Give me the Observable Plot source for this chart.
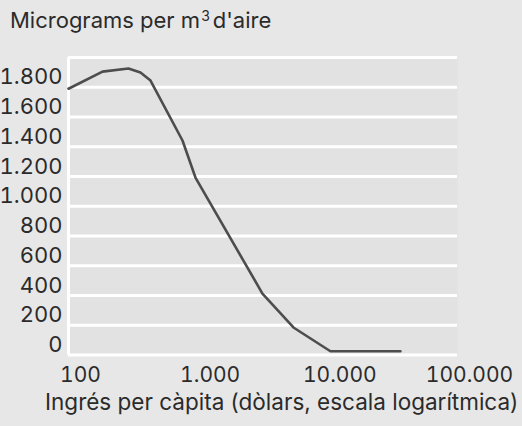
<!DOCTYPE html>
<html><head><meta charset="utf-8">
<script src="https://cdn.jsdelivr.net/npm/d3@7"></script>
<script src="https://cdn.jsdelivr.net/npm/@observablehq/plot@0.6"></script>
<style>
html,body{margin:0;padding:0;background:#e7e7e7;width:522px;height:426px;overflow:hidden;}
body{font-family:Inter,Lato,"Noto Sans",sans-serif;color:#2b2b2b;}
#title{height:45px;box-sizing:border-box;padding-left:10px;padding-top:9px;font-size:22px;line-height:22px;white-space:nowrap;}
#title .sup{font-size:14px;position:relative;top:-7px;line-height:0;margin-left:1px;margin-right:3px;}
#chart{height:345px;}
#caption{height:36px;padding-left:45px;font-size:22.5px;line-height:24px;white-space:nowrap;}
</style></head><body>
<div id="title">Micrograms per m<span class="sup">3</span>d'aire</div>
<div id="chart"></div>
<div id="caption">Ingrés per càpita (dòlars, escala logarítmica)</div>
<script>
// income per capita (dollars) and concentration (micrograms per m3 of air)
const income = [100, 183, 290, 359, 429, 757, 953, 3130, 5430, 10470, 36300];
const concentration = [1790, 1905, 1926, 1899, 1845, 1442, 1193, 413, 185, 25, 25];
const xTicks = [100, 1000, 10000, 100000];
const yGrid = [0, 200, 400, 600, 800, 1000, 1200, 1400, 1600, 1800, 2000];
const yLabels = [0, 200, 400, 600, 800, 1000, 1200, 1400, 1600, 1800];

const fmt = d3.formatLocale({decimal: ",", thousands: ".", grouping: [3]}).format(",");
const data = income.map((x, i) => ({x, y: concentration[i]}));

const chart = Plot.plot({
  width: 522,
  height: 345,
  marginTop: 12,
  marginBottom: 35.5,
  marginLeft: 68,
  marginRight: 65,
  x: {type: "log", domain: [100, 100000]},
  y: {domain: [0, 2000]},
  style: {background: "transparent", fontFamily: "Inter, Lato, 'Noto Sans', sans-serif", color: "#2b2b2b"},
  marks: [
    Plot.frame({fill: "#e2e2e2", stroke: null}),
    Plot.gridY(yGrid, {stroke: "white", strokeOpacity: 1, strokeWidth: 3}),
    Plot.ruleX([100], {stroke: "white", strokeWidth: 3}),
    Plot.axisY(yLabels, {tickSize: 0, tickPadding: 6, dy: -10, tickFormat: fmt, label: null, fontSize: 22}),
    Plot.axisX(xTicks, {tickSize: 0, tickPadding: 12, dx: 12, tickFormat: fmt, label: null, fontSize: 21}),
    Plot.line(data, {x: "x", y: "y", stroke: "#4d4d4d", strokeWidth: 2.6})
  ]
});
document.getElementById("chart").appendChild(chart);
</script>
</body></html>
